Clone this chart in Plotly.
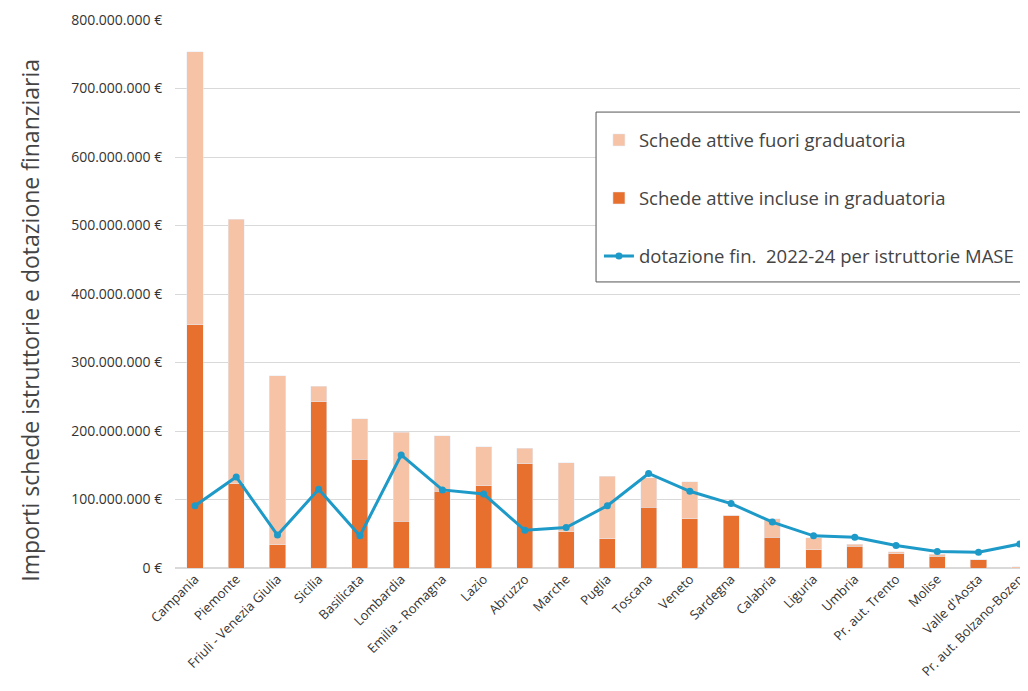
import plotly.graph_objects as go

regioni = ["Campania", "Piemonte", "Friuli - Venezia Giulia", "Sicilia", "Basilicata",
           "Lombardia", "Emilia - Romagna", "Lazio", "Abruzzo", "Marche", "Puglia",
           "Toscana", "Veneto", "Sardegna", "Calabria", "Liguria", "Umbria",
           "Pr. aut. Trento", "Molise", "Valle d'Aosta", "Pr. aut. Bolzano-Bozen"]

totale = [754, 509, 281, 265, 218, 198, 193, 177, 175, 154, 134, 132, 126, 77, 72, 44, 35, 24, 20, 12, 2]
incluse = [355, 123, 34, 243, 159, 68, 112, 120, 152, 53, 43, 89, 72, 76, 45, 27, 32, 21, 17, 12, 0]
dotazione = [91, 133, 48, 115, 47, 165, 114, 108, 55, 59, 91, 138, 112, 94, 67, 47, 45, 33, 24, 23, 35]

M = 1_000_000
fuori = [(t - i) * M for t, i in zip(totale, incluse)]
incl = [i * M for i in incluse]
dot = [d * M for d in dotazione]

fig = go.Figure()
fig.add_trace(go.Bar(x=regioni, y=incl, name="Schede attive incluse in graduatoria",
                     marker_color="#E8702E", legendrank=2, legendgroup="b", width=0.39))
fig.add_trace(go.Bar(x=regioni, y=fuori, name="Schede attive fuori graduatoria",
                     marker_color="#F6C3A6", legendrank=1, legendgroup="a", width=0.39))
fig.add_trace(go.Scatter(x=regioni, y=dot, name="dotazione fin.  2022-24 per istruttorie MASE",
                         mode="lines+markers", line=dict(color="#1E9AC8", width=3),
                         marker=dict(size=7, color="#1E9AC8"), legendrank=3, legendgroup="c"))

fig.update_layout(
    width=1020, height=683,
    barmode="stack",
    separators=",.",
    paper_bgcolor="white", plot_bgcolor="white",
    margin=dict(l=167, r=0, t=12, b=123),
    font=dict(family="Open Sans, Noto Sans, sans-serif", color="#333333"),
    showlegend=True,
    legend=dict(x=0.497, y=0.815, xanchor="left", yanchor="top",
                borderwidth=0, bgcolor="rgba(0,0,0,0)",
                font=dict(size=18.5, color="#444444"), tracegroupgap=31,
                itemwidth=30),
    shapes=[dict(type="rect", xref="paper", yref="paper", x0=0.4936, x1=0.993,
                 y0=0.522, y1=0.832, line=dict(color="#555555", width=1),
                 fillcolor="white", layer="above")],
    annotations=[dict(text="Importi schede istruttorie e dotazione finanziaria",
                      xref="paper", yref="paper", x=-0.17, y=0.453, xanchor="center",
                      yanchor="middle", textangle=-90, showarrow=False,
                      font=dict(size=23, color="#444444"))],
)
fig.update_xaxes(tickangle=-45, tickfont=dict(size=13, color="#333333"), automargin=False,
                 range=[-0.485, 20.2], showgrid=False, showline=False, ticks="")
fig.update_yaxes(range=[0, 800 * M], dtick=100 * M, tickformat=",.0f", ticksuffix=" €",
                 tickfont=dict(size=14, color="#333333"), automargin=False,
                 ticks="outside", ticklen=9, tickcolor="white",
                 gridcolor="#D9D9D9", gridwidth=1, zeroline=True, zerolinecolor="#D9D9D9")

fig.write_html("out.html")
